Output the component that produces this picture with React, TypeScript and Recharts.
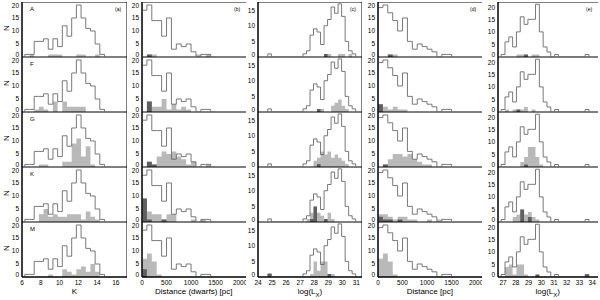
import React from 'react';
import { ComposedChart, Area, Line, XAxis, YAxis, ReferenceArea } from 'recharts';

const ROW_NAMES = ['A', 'F', 'G', 'K', 'M'];
const PANEL_TAGS = ['(a)', '(b)', '(c)', '(d)', '(e)'];
const X_TITLES = ['K', 'Distance (dwarfs) [pc]', 'LX', 'Distance [pc]', 'LX'];

// ---- Column 1: K magnitude (bin edges, total, per spectral type) ----
const kEdges = [6.3, 6.8, 7.3, 7.8, 8.3, 8.8, 9.3, 9.8, 10.3, 10.8, 11.3, 11.8, 12.3, 12.8, 13.3, 13.8, 14.3, 14.8];
const kTotal = [1, 1, 6, 6, 7, 3, 7, 4, 12, 8, 15, 20, 15, 11, 10, 5, 1];
const kLight = [
  [0, 1, 0, 0, 0, 1, 1, 1, 0, 0, 0, 1, 1, 0, 0, 1, 0],
  [0, 0, 1, 2, 1, 0, 4, 0, 4, 2, 2, 2, 2, 0, 0, 0, 0],
  [0, 0, 0, 1, 1, 0, 0, 0, 2, 2, 9, 11, 4, 8, 1, 0, 0],
  [0, 0, 0, 3, 5, 2, 3, 2, 2, 3, 3, 3, 1, 4, 2, 1, 0],
  [0, 0, 0, 0, 0, 1, 0, 0, 3, 2, 1, 3, 4, 2, 5, 2, 0],
];
const kDark = [[], [], [], [], []];

// ---- Column 2: distance of dwarfs [pc] ----
const dwEdges = [0, 100, 200, 300, 400, 500, 600, 700, 800, 900, 1000, 1100, 1200, 1300, 1400, 1500];
const dwTotal = [18, 20, 14, 14, 8, 15, 3, 5, 4, 5, 2, 0, 1, 1, 0];
const dwLight = [
  [0, 1, 1, 0, 0, 0, 0, 0, 0, 0, 0, 1, 0, 1, 0],
  [0, 4, 2, 2, 5, 1, 3, 1, 2, 1, 0, 0, 0, 0, 0],
  [0, 2, 1, 4, 6, 5, 6, 4, 3, 1, 2, 0, 0, 1, 0],
  [9, 4, 3, 3, 1, 3, 3, 0, 0, 0, 1, 0, 1, 0, 0],
  [7, 9, 6, 1, 0, 0, 0, 0, 0, 0, 0, 0, 0, 0, 0],
];
const dwDark = [
  [0, 1],
  [0, 4],
  [0, 2, 1],
  [9, 1, 0, 0, 1],
  [3],
];

// ---- Column 3: log(Lx) ----
const lxEdges = [24.7, 24.95, 25.2, 25.45, 25.7, 25.95, 26.2, 26.45, 26.7, 26.95, 27.2, 27.45, 27.7, 27.95, 28.2, 28.45, 28.7, 28.95, 29.2, 29.45, 29.7, 29.95, 30.2, 30.45, 30.7, 30.95];
const lxTotal = [1, 0, 0, 0, 0, 0, 0, 0, 0, 0, 1, 2, 7, 9, 8, 4, 10, 12, 16, 14, 17, 13, 5, 2, 1];
const lxLight = [
  [0, 0, 0, 0, 0, 0, 0, 0, 0, 0, 0, 0, 0, 0, 0, 0, 1, 1, 0, 0, 1, 1, 0, 1, 0],
  [0, 0, 0, 0, 0, 0, 0, 0, 0, 0, 0, 0, 0, 0, 1, 1, 0, 0, 2, 3, 4, 2, 1, 0, 0],
  [0, 0, 0, 0, 0, 0, 0, 0, 0, 0, 0, 0, 0, 2, 3, 5, 4, 5, 3, 4, 3, 2, 1, 0, 0],
  [0, 0, 0, 0, 0, 0, 0, 0, 0, 0, 0, 1, 3, 5, 3, 2, 1, 3, 1, 0, 0, 0, 0, 0, 0],
  [1, 0, 0, 0, 0, 0, 0, 0, 0, 0, 0, 0, 1, 5, 2, 5, 5, 1, 1, 0, 0, 0, 0, 0, 0],
];
const lxDark = [
  [0, 0, 0, 0, 0, 0, 0, 0, 0, 0, 0, 0, 0, 0, 0, 0, 1],
  [0, 0, 0, 0, 0, 0, 0, 0, 0, 0, 0, 0, 0, 0, 1],
  [0, 0, 0, 0, 0, 0, 0, 0, 0, 0, 0, 0, 0, 0, 1],
  [0, 0, 0, 0, 0, 0, 0, 0, 0, 0, 0, 0, 1, 5, 0, 0, 1],
  [1, 0, 0, 0, 0, 0, 0, 0, 0, 0, 0, 0, 0, 0, 0, 0, 0, 1],
];

// ---- Column 4: distance [pc] ----
const dEdges = [0, 100, 200, 300, 400, 500, 600, 700, 800, 900, 1000, 1100, 1200, 1300, 1400, 1500];
const dTotal = [19, 20, 17, 14, 10, 15, 6, 3, 5, 4, 3, 2, 0, 1, 1];
const dLight = [
  [0, 0, 1, 1, 0, 0, 0, 0, 0, 0, 0, 0, 0, 0, 0],
  [3, 2, 1, 2, 1, 1, 0, 0, 0, 0, 0, 0, 0, 0, 0],
  [0, 1, 3, 5, 5, 4, 5, 3, 2, 1, 1, 0, 0, 0, 0],
  [3, 3, 2, 1, 2, 2, 1, 1, 0, 0, 1, 0, 1, 0, 0],
  [7, 9, 6, 1, 0, 0, 0, 0, 0, 0, 0, 0, 0, 0, 0],
];
const dDark = [
  [0, 0, 1],
  [3],
  [0, 1],
  [2, 1, 1, 0, 1],
  [],
];

// ---- Column 5: log(Lx) ----
const lx2Edges = [26.85, 27.15, 27.45, 27.75, 28.05, 28.35, 28.65, 28.95, 29.25, 29.55, 29.85, 30.15, 30.45, 30.75, 31.05, 31.35, 31.65, 31.95, 32.25, 32.55, 32.85, 33.15, 33.45, 33.75];
const lx2Total = [1, 6, 8, 4, 10, 16, 13, 15, 15, 21, 10, 4, 2, 0, 1, 0, 0, 0, 0, 0, 0, 0, 1];
const lx2Light = [
  [0, 0, 0, 0, 1, 1, 1, 0, 1, 1],
  [0, 1, 0, 1, 1, 1, 2, 0, 1],
  [0, 0, 0, 0, 0, 2, 4, 8, 8, 4, 1],
  [0, 0, 0, 2, 3, 5, 3, 4, 2, 1],
  [0, 4, 5, 1, 5, 5, 1, 0, 0, 1, 0, 0, 0, 0, 0, 0, 0, 0, 0, 0, 0, 0, 1],
];
const lx2Dark = [
  [0, 0, 0, 0, 0, 0, 1],
  [0, 0, 0, 0, 1],
  [0, 0, 0, 0, 0, 0, 1],
  [0, 0, 0, 0, 0, 5, 0, 2],
  [0, 0, 0, 0, 0, 0, 0, 0, 0, 1, 0, 0, 0, 0, 0, 0, 0, 0, 0, 0, 0, 0, 1],
];

// minor tick positions per column
const kMinor = [6.5, 7, 7.5, 8, 8.5, 9, 9.5, 10, 10.5, 11, 11.5, 12, 12.5, 13, 13.5, 14, 14.5, 15, 15.5, 16, 16.5, 17];
const dMinor = [100, 200, 300, 400, 500, 600, 700, 800, 900, 1000, 1100, 1200, 1300, 1400, 1500, 1600, 1700, 1800, 1900, 2000, 2100];
const lxMinor = [24.2, 24.4, 24.6, 24.8, 25, 25.2, 25.4, 25.6, 25.8, 26, 26.2, 26.4, 26.6, 26.8, 27, 27.2, 27.4, 27.6, 27.8, 28, 28.2, 28.4, 28.6, 28.8, 29, 29.2, 29.4, 29.6, 29.8, 30, 30.2, 30.4, 30.6, 30.8, 31, 31.2];
const lx2Minor = [26.8, 27, 27.2, 27.4, 27.6, 27.8, 28, 28.2, 28.4, 28.6, 28.8, 29, 29.2, 29.4, 29.6, 29.8, 30, 30.2, 30.4, 30.6, 30.8, 31, 31.2, 31.4, 31.6, 31.8, 32, 32.2, 32.4, 32.6, 32.8, 33, 33.2, 33.4, 33.6, 33.8, 34, 34.2, 34.4];
const nMinor = [1, 2, 3, 4, 6, 7, 8, 9, 11, 12, 13, 14, 16, 17, 18, 19, 21];

const COLS = [
  { left: 22, right: 127, domain: [6, 17.2], ticks: [6, 8, 10, 12, 14, 16], minor: kMinor, yMax: 21.15, yTicks: [0, 5, 10, 15, 20], edges: kEdges, total: kTotal, light: kLight, dark: kDark },
  { left: 141.5, right: 246, domain: [0, 2130], ticks: [0, 500, 1000, 1500, 2000], minor: dMinor, yMax: 21.15, yTicks: [0, 5, 10, 15, 20], edges: dwEdges, total: dwTotal, light: dwLight, dark: dwDark },
  { left: 258, right: 362, domain: [24, 31.4], ticks: [24, 25, 26, 27, 28, 29, 30, 31], minor: lxMinor, yMax: 17.6, yTicks: [0, 5, 10, 15], edges: lxEdges, total: lxTotal, light: lxLight, dark: lxDark },
  { left: 377.5, right: 482, domain: [0, 2130], ticks: [0, 500, 1000, 1500, 2000], minor: dMinor, yMax: 21.15, yTicks: [0, 5, 10, 15, 20], edges: dEdges, total: dTotal, light: dLight, dark: dDark },
  { left: 497.5, right: 598, domain: [26.6, 34.5], ticks: [27, 28, 29, 30, 31, 32, 33, 34], minor: lx2Minor, yMax: 21.9, yTicks: [0, 5, 10, 15, 20], edges: lx2Edges, total: lx2Total, light: lx2Light, dark: lx2Dark },
];

const TOP0 = 2;
const ROW_H = 55;
const YW = 20;
const XH = 24;
const FONT = 'Liberation Sans, Arial, sans-serif';

function buildSteps(edges: number[], total: number[], light: number[], dark: number[]) {
  const n = edges.length - 1;
  const rows: { x: number; t: number; l: number; d: number }[] = [];
  rows.push({ x: edges[0], t: 0, l: 0, d: 0 });
  for (let i = 0; i < n; i++) {
    rows.push({ x: edges[i], t: total[i] ?? 0, l: light[i] ?? 0, d: dark[i] ?? 0 });
  }
  rows.push({ x: edges[n], t: 0, l: 0, d: 0 });
  return rows;
}

function YTick(props: any) {
  const { x, y, payload, top } = props;
  const v = payload.value;
  let dy = 0;
  if (v === 0) dy = -2;
  else if (v === top) dy = 0.5;
  return (
    <text x={x} y={y + dy} dy="0.35em" textAnchor="end" fontSize={6.5} fill="#000" fontFamily={FONT}>
      {v}
    </text>
  );
}

function Panel({ col, row }: { col: number; row: number }) {
  const c = COLS[col];
  const data = buildSteps(c.edges, c.total, c.light[row], c.dark[row]);
  const bottom = row === 4;
  const w = c.right - c.left;
  const topTick = c.yTicks[c.yTicks.length - 1];
  return (
    <div style={{ position: 'absolute', left: c.left - YW, top: TOP0 + row * ROW_H }}>
      <ComposedChart
        width={YW + w}
        height={ROW_H + (bottom ? XH : 0)}
        data={data}
        margin={{ top: 0, right: 0, bottom: 0, left: 0 }}
      >
        <XAxis
          dataKey="x"
          type="number"
          domain={c.domain}
          ticks={c.ticks}
          interval={0}
          allowDataOverflow
          hide={!bottom}
          height={XH}
          tickSize={0}
          tickMargin={3}
          tick={{ fontSize: 6.5, fill: '#000', fontFamily: FONT }}
          axisLine={{ stroke: '#000' }}
          tickLine={false}
        />
        <YAxis
          type="number"
          domain={[0, c.yMax]}
          ticks={c.yTicks}
          interval={0}
          allowDataOverflow
          width={YW}
          tickSize={0}
          tickMargin={3}
          tick={<YTick top={topTick} />}
          axisLine={{ stroke: '#000' }}
          tickLine={false}
        />
        {/* inward major and minor tick marks */}
        <XAxis xAxisId="mj" type="number" dataKey="x" domain={c.domain} ticks={c.ticks} interval={0} allowDataOverflow orientation="bottom" mirror height={0} tickSize={3} tick={false} axisLine={false} tickLine={{ stroke: '#000', strokeWidth: 0.7 }} />
        <XAxis xAxisId="mn" type="number" dataKey="x" domain={c.domain} ticks={c.minor} interval={0} allowDataOverflow orientation="bottom" mirror height={0} tickSize={1.5} tick={false} axisLine={false} tickLine={{ stroke: '#000', strokeWidth: 0.6 }} />
        <XAxis xAxisId="tmj" type="number" dataKey="x" domain={c.domain} ticks={c.ticks} interval={0} allowDataOverflow orientation="top" mirror height={0} tickSize={3} tick={false} axisLine={false} tickLine={{ stroke: '#000', strokeWidth: 0.7 }} />
        <XAxis xAxisId="tmn" type="number" dataKey="x" domain={c.domain} ticks={c.minor} interval={0} allowDataOverflow orientation="top" mirror height={0} tickSize={1.5} tick={false} axisLine={false} tickLine={{ stroke: '#000', strokeWidth: 0.6 }} />
        <YAxis yAxisId="lmj" type="number" domain={[0, c.yMax]} ticks={c.yTicks} interval={0} allowDataOverflow orientation="left" mirror width={0} tickSize={3} tick={false} axisLine={false} tickLine={{ stroke: '#000', strokeWidth: 0.7 }} />
        <YAxis yAxisId="lmn" type="number" domain={[0, c.yMax]} ticks={nMinor} interval={0} allowDataOverflow orientation="left" mirror width={0} tickSize={1.5} tick={false} axisLine={false} tickLine={{ stroke: '#000', strokeWidth: 0.6 }} />
        <YAxis yAxisId="rmj" type="number" domain={[0, c.yMax]} ticks={c.yTicks} interval={0} allowDataOverflow orientation="right" mirror width={0} tickSize={3} tick={false} axisLine={false} tickLine={{ stroke: '#000', strokeWidth: 0.7 }} />
        <YAxis yAxisId="rmn" type="number" domain={[0, c.yMax]} ticks={nMinor} interval={0} allowDataOverflow orientation="right" mirror width={0} tickSize={1.5} tick={false} axisLine={false} tickLine={{ stroke: '#000', strokeWidth: 0.6 }} />
        <Area type="stepAfter" dataKey="l" stroke="none" fill="#b9b9b9" fillOpacity={1} isAnimationActive={false} dot={false} activeDot={false} />
        <Area type="stepAfter" dataKey="d" stroke="none" fill="#5f5f5f" fillOpacity={1} isAnimationActive={false} dot={false} activeDot={false} />
        <Line type="stepAfter" dataKey="t" stroke="#6a6a6a" strokeWidth={0.9} dot={false} activeDot={false} isAnimationActive={false} />
        <ReferenceArea x1={c.domain[0]} x2={c.domain[1]} y1={0} y2={c.yMax} fill="none" stroke="#000" strokeWidth={1} ifOverflow="visible" />
      </ComposedChart>
    </div>
  );
}

function LxTitle() {
  return (
    <span>
      log(L<sub style={{ fontSize: 6 }}>X</sub>)
    </span>
  );
}

export default function App() {
  const panels: React.ReactNode[] = [];
  for (let r = 0; r < 5; r++) {
    for (let c = 0; c < 5; c++) {
      panels.push(<Panel key={`${r}-${c}`} col={c} row={r} />);
    }
  }
  return (
    <div style={{ position: 'absolute', left: 0, top: 0, width: 600, height: 300, background: '#fff', fontFamily: FONT, overflow: 'hidden' }}>
      {panels}
      {ROW_NAMES.map((n, r) => (
        <div key={n} style={{ position: 'absolute', left: 30, top: TOP0 + r * ROW_H + 4, fontSize: 6, lineHeight: '7px' }}>{n}</div>
      ))}
      {ROW_NAMES.map((n, r) => (
        <div key={'N' + n} style={{ position: 'absolute', left: 4, top: TOP0 + r * ROW_H + 22, fontSize: 8, lineHeight: '8px', transform: 'rotate(-90deg)' }}>N</div>
      ))}
      {PANEL_TAGS.map((t, c) => (
        <div key={t} style={{ position: 'absolute', left: COLS[c].right - 12, top: TOP0 + 4, fontSize: 5, lineHeight: '6px' }}>{t}</div>
      ))}
      {X_TITLES.map((t, c) => (
        <div key={'xt' + c} style={{ position: 'absolute', left: COLS[c].left, width: COLS[c].right - COLS[c].left, top: 287, textAlign: 'center', fontSize: 8, lineHeight: '9px' }}>
          {t === 'LX' ? <LxTitle /> : t}
        </div>
      ))}
    </div>
  );
}
